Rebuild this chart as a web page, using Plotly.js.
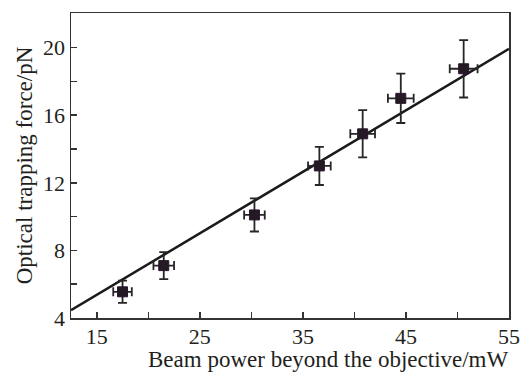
<!DOCTYPE html>
<html>
<head>
<meta charset="utf-8">
<script src="https://cdn.plot.ly/plotly-3.0.1.min.js"></script>
<style>
  html, body { margin: 0; padding: 0; background: #fff; }
  #chart { width: 522px; height: 372px; }
</style>
</head>
<body>
<div id="chart"></div>
<script>
const power    = [17.5, 21.5, 30.3, 36.6, 40.8, 44.5, 50.6];   // mW
const force    = [5.55, 7.1, 10.1, 13.0, 14.9, 17.0, 18.75];  // pN
const powerErr = [0.9, 1.0, 1.0, 1.1, 1.2, 1.25, 1.35];
const forceErr = [0.66, 0.8, 0.98, 1.13, 1.4, 1.46, 1.7];

// Linear fit shown in the chart
const fitSlope = 0.364;
const fitIntercept = -0.09;
const fitX = [12.5, 55];
const fitY = fitX.map(x => fitSlope * x + fitIntercept);

// Tick labels
const xTickVals = [15, 20, 25, 30, 35, 40, 45, 50, 55];
const xTickText = ['15', '', '25', '', '35', '', '45', '', '55'];
const yTickVals = [4, 6, 8, 10, 12, 14, 16, 18, 20];
const yTickText = ['4', '', '8', '', '12', '', '16', '', '20'];
const xTitle = 'Beam power beyond the objective/mW';
const yTitle = 'Optical trapping force/pN';

const serif = 'Liberation Serif, Times New Roman, serif';
const ink = '#231f20';
const fs = 22;

const traces = [
  {
    x: fitX, y: fitY, mode: 'lines', type: 'scatter',
    line: { color: '#1a1a1a', width: 2.5 },
    hoverinfo: 'skip', showlegend: false
  },
  {
    x: power, y: force, mode: 'markers', type: 'scatter',
    marker: { symbol: 'square', size: 10, color: '#231a24', line: { color: '#2a1530', width: 1 } },
    error_y: { type: 'data', array: forceErr, visible: true, color: '#262626', thickness: 1.8, width: 4.5 },
    error_x: { type: 'data', array: powerErr, visible: true, color: '#262626', thickness: 1.8, width: 4.5 },
    showlegend: false
  }
];

const layout = {
  width: 522, height: 372,
  margin: { l: 71, r: 13, t: 13, b: 54 },
  paper_bgcolor: '#fff', plot_bgcolor: '#fff',
  font: { family: serif, size: fs, color: ink },
  showlegend: false,
  xaxis: {
    range: [12.5, 55],
    tickmode: 'array', tickvals: xTickVals, ticktext: xTickText,
    ticks: 'inside', ticklen: 6, tickwidth: 1.5, tickcolor: '#333',
    ticklabelstandoff: -2,
    showline: true, linecolor: '#333', linewidth: 1.5, mirror: true,
    showgrid: false, zeroline: false,
    tickfont: { family: serif, size: fs, color: ink }
  },
  yaxis: {
    range: [4, 22.05],
    tickmode: 'array', tickvals: yTickVals, ticktext: yTickText,
    ticks: 'inside', ticklen: 6, tickwidth: 1.5, tickcolor: '#333',
    showline: true, linecolor: '#333', linewidth: 1.5, mirror: true,
    showgrid: false, zeroline: false,
    tickfont: { family: serif, size: fs, color: ink },
    title: { text: yTitle, font: { family: serif, size: 23, color: ink }, standoff: 4 }
  },
  annotations: [{
    text: xTitle, xref: 'paper', yref: 'paper',
    x: 0.589, y: -0.135, xanchor: 'center', yanchor: 'middle',
    showarrow: false, font: { family: serif, size: 23, color: ink }
  }]
};

Plotly.newPlot('chart', traces, layout, { staticPlot: true, displayModeBar: false });
</script>
</body>
</html>
